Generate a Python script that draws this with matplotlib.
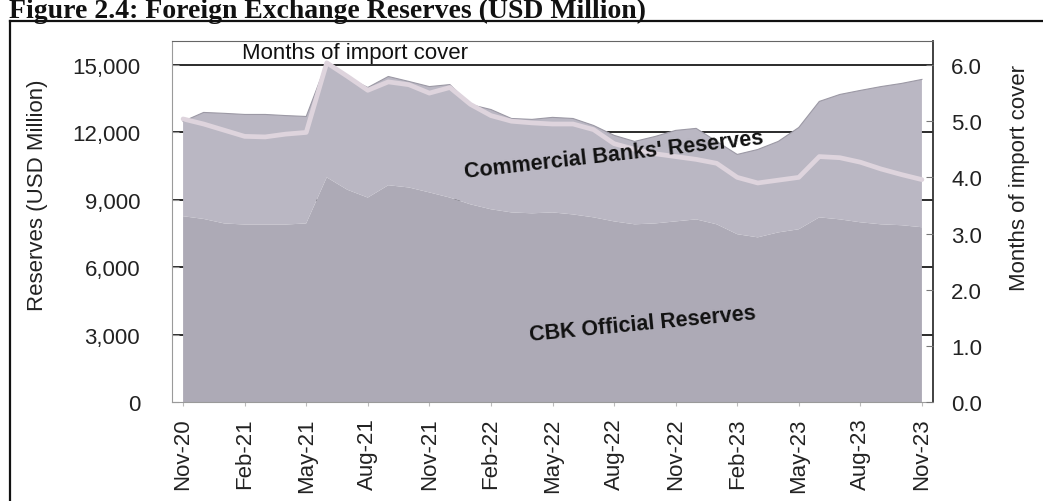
import numpy as np
import pandas as pd
import matplotlib
matplotlib.use("Agg")
import matplotlib.pyplot as plt
from matplotlib.lines import Line2D

plt.rcParams['font.family'] = ['Liberation Sans', 'DejaVu Sans']

# monthly data, Nov-20 .. Nov-23
months = pd.date_range('2020-11-01', periods=37, freq='MS')

cbk_official = [8270, 8150, 7950, 7900, 7900, 7900, 7950, 10000, 9450, 9100,
                9650, 9550, 9330, 9100, 8800, 8580, 8440, 8400, 8440, 8350,
                8220, 8040, 7910, 7950, 8040, 8130, 7910, 7470, 7330, 7550,
                7690, 8220, 8130, 8000, 7910, 7870, 7780]

commercial_banks = [4220, 4740, 4900, 4900, 4900, 4850, 4760, 5110, 5000, 4900,
                    4840, 4720, 4710, 5030, 4440, 4440, 4180, 4180, 4230, 4270,
                    4090, 3830, 3690, 3870, 4050, 4050, 3690, 3550, 3910, 4050,
                    4530, 5160, 5560, 5870, 6130, 6310, 6580]

import_cover = [5.04, 4.95, 4.84, 4.73, 4.72, 4.77, 4.80, 6.04, 5.80, 5.55,
                5.70, 5.65, 5.50, 5.60, 5.30, 5.10, 5.00, 4.97, 4.95, 4.95,
                4.85, 4.60, 4.50, 4.42, 4.37, 4.32, 4.25, 4.00, 3.90, 3.95,
                4.00, 4.37, 4.35, 4.27, 4.15, 4.05, 3.96]

x = np.arange(len(months))
tick_idx = x[::3]
tick_labels = [months[i].strftime('%b-%y') for i in tick_idx]

W, H = 1043, 502
fig = plt.figure(figsize=(W / 100, H / 100), dpi=100)
fig.patch.set_facecolor('white')

# outer box around the figure
fig.add_artist(Line2D([10 / W, 10 / W], [0, 1 - 22 / H], color='#111111', lw=1.6,
                      transform=fig.transFigure))
fig.add_artist(Line2D([10 / W, 1], [1 - 22 / H, 1 - 22 / H], color='#111111', lw=1.6,
                      transform=fig.transFigure))

fig.text(9 / W, 1 - 18 / H, 'Figure 2.4: Foreign Exchange Reserves (USD Million)',
         family='Liberation Serif', fontweight='bold', fontsize=20,
         ha='left', va='baseline', color='#111111')

ax = fig.add_axes([172 / W, 1 - 403 / H, (933 - 172) / W, (403 - 42) / H])
ax.set_xlim(-0.54, 36.54)
ymax = 16070
ax.set_ylim(0, ymax)

# gridlines sit behind the areas
for g in range(3000, 15001, 3000):
    ax.axhline(g, color='#1a1a1a', lw=1.3, zorder=0.5)

ax.stackplot(x, cbk_official, commercial_banks,
             colors=['#adaab6', '#bab7c3'], edgecolor='none', zorder=1)
total = np.array(cbk_official) + np.array(commercial_banks)
ax.plot(x, total, color='#9c99a5', lw=0.8, zorder=1.2)

ax.set_yticks(range(0, 15001, 3000))
ax.set_yticklabels([f'{v:,}' for v in range(0, 15001, 3000)])
ax.set_xticks(tick_idx)
ax.set_xticklabels(tick_labels, rotation=90)
ax.tick_params(axis='y', direction='in', length=5, color='#999999',
               labelsize=16, labelcolor='#222222', pad=23)
ax.tick_params(axis='x', direction='out', length=3, color='#bbbbbb',
               labelsize=16, labelcolor='#222222', pad=8)
for side in ['left', 'bottom']:
    ax.spines[side].set_color('#9a9a9a')
ax.spines['top'].set_color('#666666')
ax.spines['right'].set_color('#333333')
ax.spines['right'].set_linewidth(1.3)

ax2 = ax.twinx()
ax2.set_ylim(0, ymax / 2500)
ax2.plot(x, import_cover, color='#ded4dd', lw=3.4, solid_capstyle='round', zorder=3)
ax2.set_yticks(np.arange(0, 6.01, 1.0))
ax2.set_yticklabels([f'{v:.1f}' for v in np.arange(0, 6.01, 1.0)])
ax2.tick_params(axis='y', direction='in', length=5, color='#777777',
                labelsize=16, labelcolor='#222222', pad=13)
for side in ['left', 'top', 'bottom', 'right']:
    ax2.spines[side].set_visible(False)

fig.text(38 / W, 1 - 195 / H, 'Reserves (USD Million)', rotation=90,
         fontsize=16, ha='center', va='center', color='#222222')
fig.text(1020 / W, 1 - 178 / H, 'Months of import cover', rotation=90,
         fontsize=16, ha='center', va='center', color='#222222')

# series labels, placed in reserve units but drawn above the cover line
ax2.text(8.4, 15560, 'Months of import cover', transform=ax.transData,
         fontsize=16, ha='center', va='center', color='#111111', zorder=5)
ax2.text(21.0, 11000, "Commercial Banks' Reserves", transform=ax.transData,
         fontsize=15.5, fontweight='bold', rotation=6.5,
         ha='center', va='center', color='#111111', zorder=5)
ax2.text(22.4, 3480, 'CBK Official Reserves', transform=ax.transData,
         fontsize=15.5, fontweight='bold', rotation=5.5,
         ha='center', va='center', color='#111111', zorder=5)

fig.savefig('out.png', dpi=100)
